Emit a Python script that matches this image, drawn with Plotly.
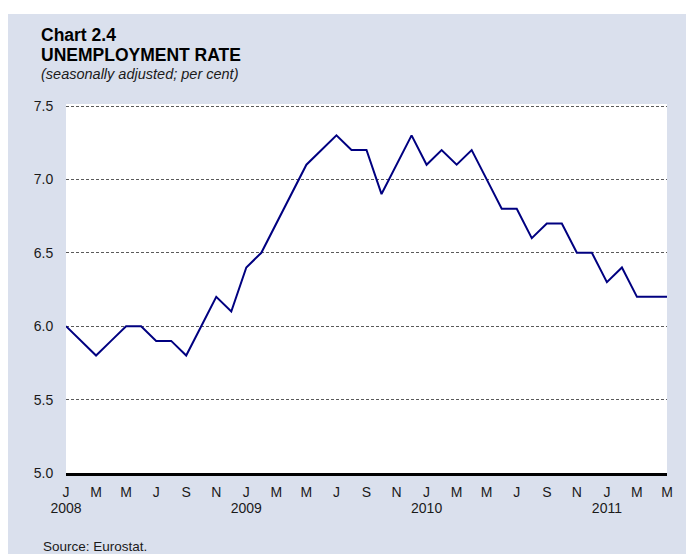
import plotly.graph_objects as go

# ---- data ----
months = [f"{y}-{m:02d}" for y in range(2008, 2012) for m in range(1, 13)][:41]
rate = [
    6.0, 5.9, 5.8, 5.9, 6.0, 6.0, 5.9, 5.9, 5.8, 6.0, 6.2, 6.1,   # 2008
    6.4, 6.5, 6.7, 6.9, 7.1, 7.2, 7.3, 7.2, 7.2, 6.9, 7.1, 7.3,   # 2009
    7.1, 7.2, 7.1, 7.2, 7.0, 6.8, 6.8, 6.6, 6.7, 6.7, 6.5, 6.5,   # 2010
    6.3, 6.4, 6.2, 6.2, 6.2,                                      # 2011
]
month_letters = ["J", "F", "M", "A", "M", "J", "J", "A", "S", "O", "N", "D"]
y_ticks = [5.0, 5.5, 6.0, 6.5, 7.0, 7.5]

tick_vals = months[::2]
tick_text = [month_letters[int(m.split("-")[1]) - 1] for m in tick_vals]
year_vals = [m for m in months if m.endswith("-01")]
year_text = [m.split("-")[0] for m in year_vals]

# ---- layout geometry ----
# page has an 8px body margin; figure drawn from (8, 8)
OFF = 8
EXTRA = 2  # px of headroom so the 7.5 gridline is not clipped
W, H = 694 - OFF, 554 - OFF
L, T = 66 - OFF, 106 - OFF - EXTRA
R = W - (667 - OFF)
B = H - (473 - OFF)
pw, ph = W - L - R, H - T - B
y_top = 7.5 + EXTRA * 2.5 / 367


def px(x):  # page pixel -> paper x
    return (x - OFF - L) / pw


def py(y):  # page pixel -> paper y
    return (H - B - (y - OFF)) / ph


BG = "#dae0ed"
FONT = "Liberation Sans, Arial, sans-serif"
TXT = "#1a1a1a"

fig = go.Figure()
fig.add_trace(go.Scatter(
    x=months, y=rate, mode="lines",
    line=dict(color="#000080", width=2),
    hoverinfo="skip", showlegend=False,
))
# invisible companion trace carrying the year axis
fig.add_trace(go.Scatter(
    x=months, y=rate, mode="lines", xaxis="x2",
    line=dict(color="rgba(0,0,0,0)", width=0),
    hoverinfo="skip", showlegend=False,
))

fig.update_layout(
    width=W, height=H,
    margin=dict(l=L, r=R, t=T, b=B, pad=0),
    paper_bgcolor=BG, plot_bgcolor="white",
    font=dict(family=FONT, color=TXT, size=14),
    xaxis=dict(
        type="category", range=[0, 40],
        tickmode="array", tickvals=tick_vals, ticktext=tick_text,
        showgrid=False, zeroline=False,
        showline=True, linecolor="black", linewidth=2.5,
        ticks="outside", ticklen=4, tickcolor="rgba(0,0,0,0)",
        tickfont=dict(size=14, family=FONT, color=TXT),
    ),
    xaxis2=dict(
        type="category", range=[0, 40], overlaying="x", side="bottom",
        anchor="y",
        tickmode="array", tickvals=year_vals, ticktext=year_text,
        showgrid=False, zeroline=False, showline=False,
        ticks="outside", ticklen=22, tickcolor="rgba(0,0,0,0)",
        tickfont=dict(size=14, family=FONT, color=TXT),
    ),
    yaxis=dict(
        range=[5.0, y_top], tickmode="array", tickvals=y_ticks,
        tickformat=".1f",
        showgrid=True, gridcolor="#5a5a5a", gridwidth=1, griddash="3px,2px",
        zeroline=False, showline=False,
        ticks="outside", ticklen=9, tickcolor="rgba(0,0,0,0)",
        tickfont=dict(size=14, family=FONT, color=TXT),
    ),
    shapes=[
        dict(type="rect", xref="paper", yref="paper", layer="below",
             x0=px(0), x1=px(700), y0=py(0), y1=py(14),
             fillcolor="white", line=dict(width=0)),
    ],
    annotations=[
        dict(text="<b>Chart 2.4</b>", xref="paper", yref="paper",
             x=px(39), y=py(35.5), xanchor="left", yanchor="middle",
             showarrow=False, font=dict(size=17.5, family=FONT, color="black")),
        dict(text="<b>UNEMPLOYMENT RATE</b>", xref="paper", yref="paper",
             x=px(39), y=py(55), xanchor="left", yanchor="middle",
             showarrow=False, font=dict(size=17.5, family=FONT, color="black")),
        dict(text="<i>(seasonally adjusted; per cent)</i>", xref="paper", yref="paper",
             x=px(39), y=py(74.5), xanchor="left", yanchor="middle",
             showarrow=False, font=dict(size=14.5, family=FONT, color=TXT)),
        dict(text="Source: Eurostat.", xref="paper", yref="paper",
             x=px(41), y=py(546), xanchor="left", yanchor="middle",
             showarrow=False, font=dict(size=13.5, family=FONT, color=TXT)),
    ],
)

fig.write_html("out.html")
